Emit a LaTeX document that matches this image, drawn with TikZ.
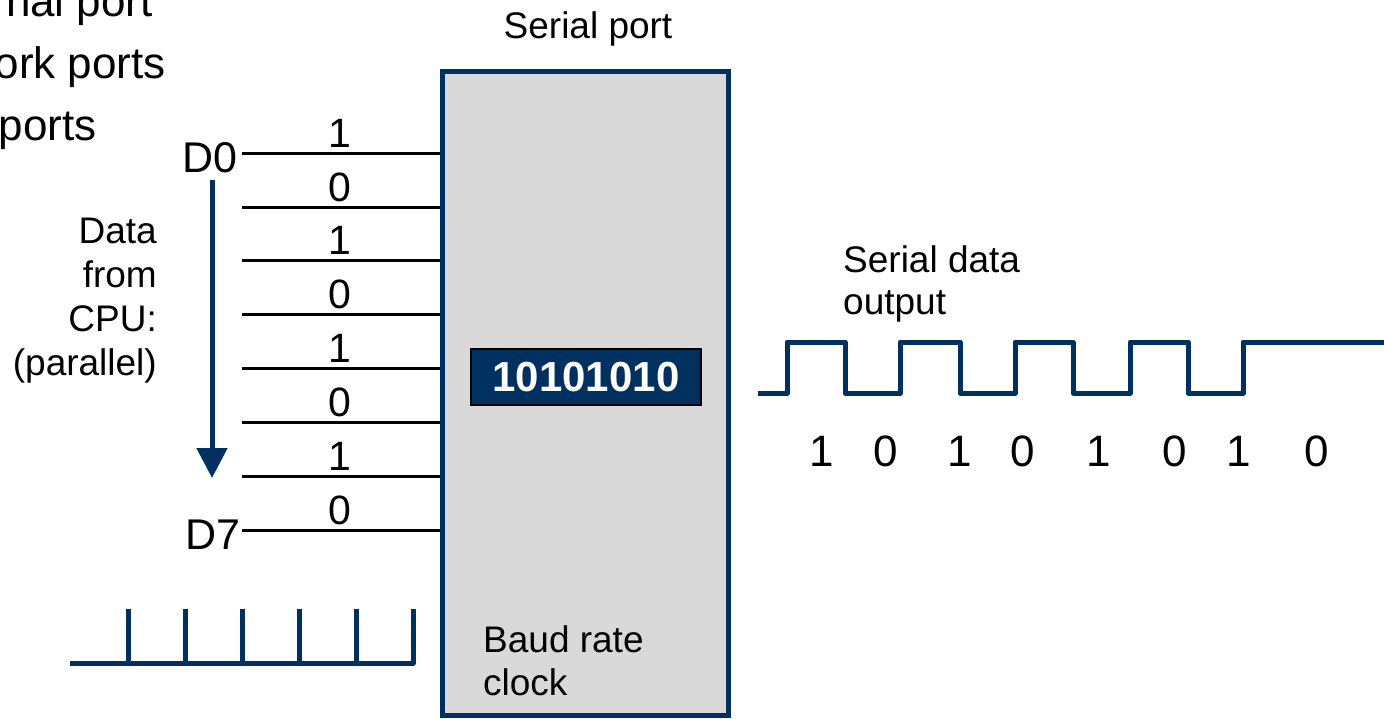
\documentclass[tikz,border=0pt]{standalone}
\usepackage{fontspec}
\setmainfont{Liberation Sans}
\usetikzlibrary{arrows.meta}
\definecolor{navy}{RGB}{0,48,96}
\definecolor{boxgray}{RGB}{217,217,217}
\newcommand{\myfs}[1]{\fontsize{#1}{#1}\selectfont}
\begin{document}
\begin{tikzpicture}[x=1pt,y=-1pt,
  lbl/.style={inner sep=0pt, font=\myfs{37}},
  bit/.style={inner sep=0pt, anchor=base, font=\myfs{41}},
  wbit/.style={inner sep=0pt, anchor=base, font=\myfs{44}},
  dataline/.style={line width=3pt, black},
  navyline/.style={line width=5pt, navy, line join=round},
]
\useasboundingbox (0,0) rectangle (1384,718);
\clip (0,0) rectangle (1384,718);

% partial list at top left
\node[inner sep=0pt, anchor=base east, font=\myfs{44}] (t1) at (153,16) {nal port};
\node[inner sep=0pt, anchor=base east, font=\myfs{44}] (t2) at (166,78) {ork ports};
\node[inner sep=0pt, anchor=base east, font=\myfs{44}] (t3) at (97,140) {ports};

% serial port box
\node[draw=navy, fill=boxgray, line width=5pt, minimum width=286pt, minimum height=644pt, inner sep=0pt] (port) at (585,393) {};
\node[lbl, anchor=base] (title) at (588,38) {Serial port};
\node[draw=black, fill=navy, line width=2pt, minimum width=230pt, minimum height=56pt, inner sep=0pt, text=white, font=\bfseries\myfs{42}] (reg) at (586,377) {10101010};
\node[lbl, align=left, anchor=north west, font=\fontsize{37}{43}\selectfont] (baud) at (483,625.5) {Baud rate\\clock};

% parallel data lines
\foreach \y/\b [count=\i from 0] in {153/1,207/0,260/1,314/0,368/1,422/0,476/1,530/0} {
  \coordinate (L\i) at (242,\y);
  \draw[dataline] (L\i) -- (L\i -| port.west);
  \node[bit] (bit\i) at (340,\y-6) {\b};
}
\node[inner sep=0pt, anchor=base east, font=\myfs{43}] (D0) at (238,172) {D0};
\node[inner sep=0pt, anchor=base east, font=\myfs{43}] (D7) at (241,549) {D7};

% direction arrow
\coordinate (as) at (212,180);
\coordinate (ae) at (212,478);
\draw[navy, line width=5pt, -{Triangle[width=30pt,length=30pt]}] (as) -- (ae);
\node[lbl, align=right, anchor=north east, font=\fontsize{37}{44}\selectfont] (cpu) at (157,218) {Data\\from\\CPU:\\(parallel)};

% baud rate clock
\draw[navyline] (70,663) -- (413,663) -- (413,609);
\foreach \x in {128,185,242,299,356} \draw[navyline] (\x,663) -- (\x,609);

% serial output waveform
\draw[navyline] (758,393) -- (787,393) -- (787,342) -- (845,342) -- (845,393) -- (900,393) -- (900,342) -- (960,342) -- (960,393) -- (1015,393) -- (1015,342) -- (1073,342) -- (1073,393) -- (1130,393) -- (1130,342) -- (1188,342) -- (1188,393) -- (1243,393) -- (1243,342) -- (1390,342);
\node[lbl, align=left, anchor=north west, font=\fontsize{37}{42}\selectfont] (sdo) at (843,245) {Serial data\\output};
\foreach \x/\b [count=\i] in {822/1,886/0,960/1,1023/0,1099/1,1175/0,1239/1,1317/0}
  \node[wbit] (w\i) at (\x,466) {\b};
\end{tikzpicture}
\end{document}
